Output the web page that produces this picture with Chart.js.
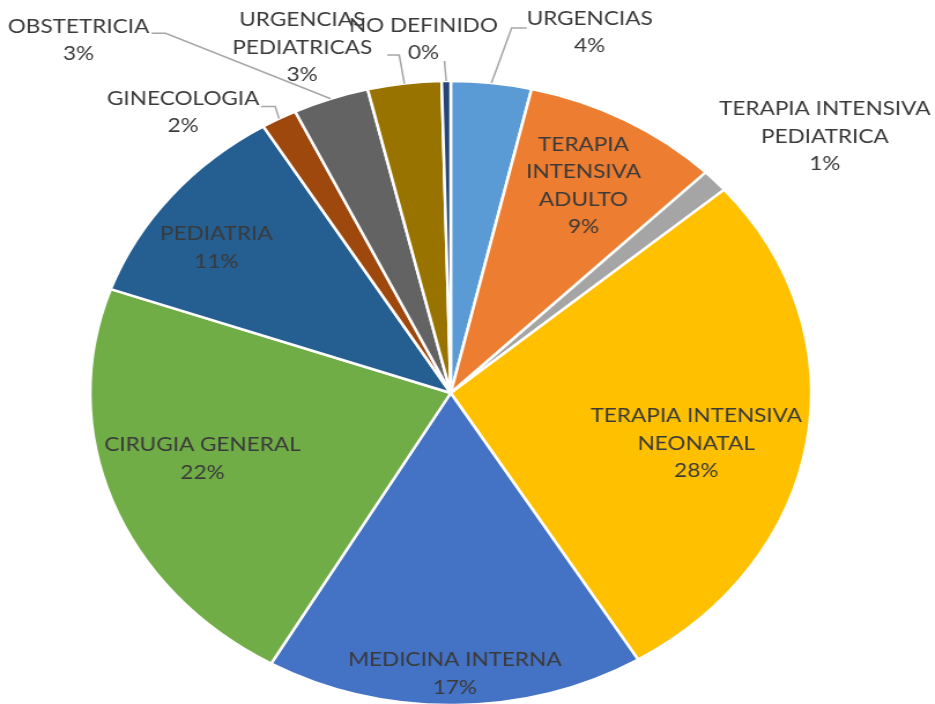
<!DOCTYPE html>
<html><head><meta charset="utf-8">
<script src="https://cdn.jsdelivr.net/npm/chart.js@4.4.1/dist/chart.umd.min.js"></script>
<style>
html,body{margin:0;padding:0;background:#fff;overflow:hidden}
#wrap{width:809px;height:704px;transform:scaleX(1.1557);transform-origin:0 0}
canvas{display:block}
</style></head><body>
<div id="wrap"><canvas id="c" width="809" height="704"></canvas></div>
<script>
// ---- data ----
const categories = ["URGENCIAS","TERAPIA INTENSIVA ADULTO","TERAPIA INTENSIVA PEDIATRICA","TERAPIA INTENSIVA NEONATAL","MEDICINA INTERNA","CIRUGIA GENERAL","PEDIATRIA","GINECOLOGIA","OBSTETRICIA","URGENCIAS PEDIATRICAS","NO DEFINIDO"];
const shares = [3.6, 8.9, 1.2, 27.6, 17.0, 22.1, 10.9, 1.6, 3.4, 3.3, 0.4];
const labelLines = [["URGENCIAS"],["TERAPIA","INTENSIVA","ADULTO"],["TERAPIA INTENSIVA","PEDIATRICA"],["TERAPIA INTENSIVA","NEONATAL"],["MEDICINA INTERNA"],["CIRUGIA GENERAL"],["PEDIATRIA"],["GINECOLOGIA"],["OBSTETRICIA"],["URGENCIAS","PEDIATRICAS"],["NO DEFINIDO"]];
const colors = ["#5B9BD5","#ED7D31","#A5A5A5","#FFC000","#4472C4","#70AD47","#255E91","#9E480E","#636363","#997300","#264478"];

// ---- label placement (style/layout) ----
const labelLayout = [
  {mode:'out', text:[85,-51], leader:[[17.5,-54.9],[30.5,-54.9]]},
  {mode:'in', f:0.76, rot:0},
  {mode:'out', text:[94.9,-44.3], leader:null},
  {mode:'in', f:0.70, rot:4.4},
  {mode:'in', f:0.90, rot:0},
  {mode:'in', f:0.72, rot:3.3},
  {mode:'in', f:0.80, rot:-3.4},
  {mode:'out', text:[-82.9,-6.2], leader:[[-3.3,-12.2],[-15.4,-12.2]]},
  {mode:'out', text:[-218.2,-58.5], leader:[[-142.9,-65.5],[-155,-65.5]]},
  {mode:'out', text:[-88.4,-36], leader:[[-4.5,-28.5],[-14.9,-28.5]]},
  {mode:'out', text:[-19.7,-42], leader:[[-1.5,-20]]}
];

const FONT = '19.5px Lato, "Open Sans", sans-serif';
const LINE_H = 27.5;

const labelPlugin = {
  id: 'pieLabels',
  afterDatasetsDraw(chart) {
    const ctx = chart.ctx;
    const meta = chart.getDatasetMeta(0);
    const data = chart.data.datasets[0].data;
    const total = data.reduce((a,b)=>a+b,0);
    ctx.save();
    ctx.font = FONT;
    ctx.fillStyle = '#3a3a3a';
    ctx.textAlign = 'center';
    ctx.textBaseline = 'middle';
    meta.data.forEach((arc, i) => {
      const p = arc.getProps(['x','y','startAngle','endAngle','outerRadius'], true);
      const mid = (p.startAngle + p.endAngle) / 2;
      const L = labelLayout[i];
      let cx, cy;
      if (L.mode === 'in') {
        const a = mid + L.rot * Math.PI / 180;
        cx = p.x + L.f * p.outerRadius * Math.cos(a);
        cy = p.y + L.f * p.outerRadius * Math.sin(a);
      } else {
        const ex = p.x + p.outerRadius * Math.cos(mid);
        const ey = p.y + p.outerRadius * Math.sin(mid);
        if (L.leader) {
          ctx.beginPath();
          ctx.strokeStyle = '#A6A6A6';
          ctx.lineWidth = 1.5;
          ctx.moveTo(ex, ey);
          L.leader.forEach(pt => ctx.lineTo(ex + pt[0], ey + pt[1]));
          ctx.stroke();
        }
        cx = ex + L.text[0];
        cy = ey + L.text[1];
      }
      const lines = labelLines[i].concat([Math.round(data[i] / total * 100) + '%']);
      const y0 = cy - (lines.length - 1) * LINE_H / 2;
      lines.forEach((t, k) => ctx.fillText(t, cx, y0 + k * LINE_H));
    });
    ctx.restore();
  }
};

new Chart(document.getElementById('c'), {
  type: 'pie',
  data: {
    labels: categories,
    datasets: [{
      data: shares,
      backgroundColor: colors,
      borderColor: '#ffffff',
      borderWidth: 2.5,
      hoverOffset: 0
    }]
  },
  options: {
    responsive: false,
    devicePixelRatio: 1,
    animation: false,
    radius: 312,
    layout: { padding: { left: 80, right: 109, top: 83, bottom: 1 } },
    plugins: { legend: { display: false }, tooltip: { enabled: false } },
    events: []
  },
  plugins: [labelPlugin]
});
</script>
</body></html>
